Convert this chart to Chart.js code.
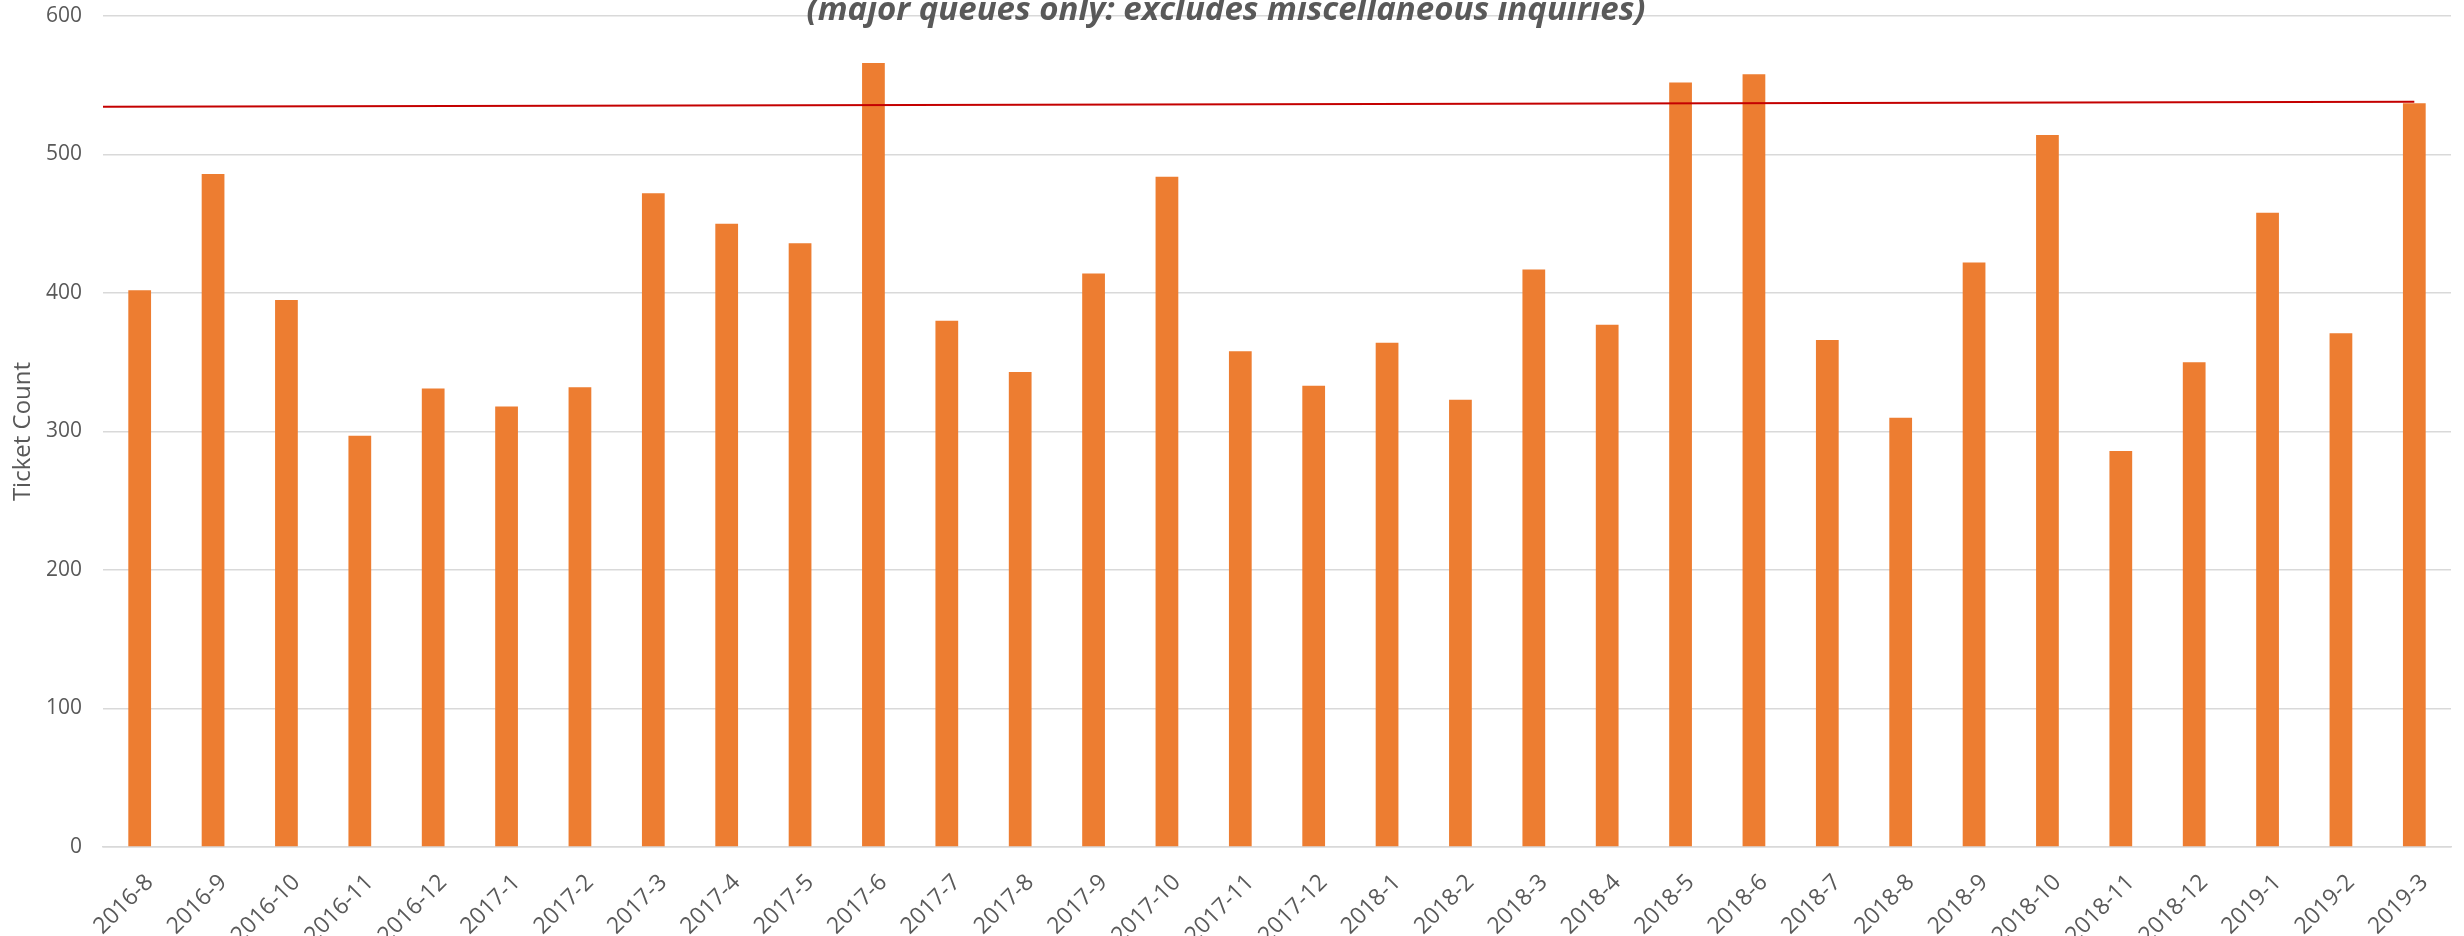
<!DOCTYPE html>
<html>
<head>
<meta charset="utf-8">
<script src="https://cdn.jsdelivr.net/npm/chart.js@4/dist/chart.umd.min.js"></script>
<style>
  html, body { margin: 0; padding: 0; background: #fff; overflow: hidden; }
  #wrap { width: 2464px; height: 936px; }
</style>
</head>
<body>
<div id="wrap"><canvas id="ticket_chart" width="2464" height="936"></canvas></div>
<script>
const months = [
  "2016-8", "2016-9", "2016-10", "2016-11", "2016-12",
  "2017-1", "2017-2", "2017-3", "2017-4", "2017-5", "2017-6",
  "2017-7", "2017-8", "2017-9", "2017-10", "2017-11", "2017-12",
  "2018-1", "2018-2", "2018-3", "2018-4", "2018-5", "2018-6",
  "2018-7", "2018-8", "2018-9", "2018-10", "2018-11", "2018-12",
  "2019-1", "2019-2", "2019-3",
];
const ticketCounts = [
  402, 486, 395, 297, 331,
  318, 332, 472, 450, 436, 566,
  380, 343, 414, 484, 358, 333,
  364, 323, 417, 377, 552, 558,
  366, 310, 422, 514, 286, 350,
  458, 371, 537,
];
// linear trendline, start and end
const trendX = [-0.5, 31];
const trendY = [534.5, 538];
const yTicks = [0, 100, 200, 300, 400, 500, 600];

const subtitle = "(major queues only: excludes miscellaneous inquiries)";
const textGray = "#595959";
const gridGray = "#d9d9d9";

// subtitle floats over the plot, top is cut off like in the original
const subtitlePlugin = {
  id: "subtitleText",
  afterDraw(chart) {
    const ctx = chart.ctx;
    ctx.save();
    ctx.font = 'italic bold 33px "Open Sans"';
    ctx.fillStyle = textGray;
    ctx.textAlign = "center";
    ctx.textBaseline = "alphabetic";
    ctx.fillText(subtitle, 1226, 20);
    ctx.restore();
  },
};

const chartCanvas = document.getElementById("ticket_chart");
chartCanvas.chart = new Chart(chartCanvas, {
  data: {
    labels: months,
    datasets: [
      {
        type: "line",
        label: "Linear trend",
        data: trendX.map((x, i) => ({ x: x, y: trendY[i] })),
        xAxisID: "x2",
        borderColor: "#c40000",
        borderWidth: 2,
        pointRadius: 0,
        fill: false,
        order: 0,
      },
      {
        type: "bar",
        label: "Ticket Count",
        data: ticketCounts,
        xAxisID: "x",
        backgroundColor: "#ed7d31",
        borderWidth: 0,
        grouped: false,
        barPercentage: 0.31,
        categoryPercentage: 1,
        order: 1,
      },
    ],
  },
  plugins: [subtitlePlugin],
  options: {
    responsive: false,
    animation: false,
    devicePixelRatio: 1,
    layout: { padding: { top: 16, right: 13, left: 0, bottom: 0 } },
    plugins: {
      legend: { display: false },
      tooltip: { enabled: false },
    },
    scales: {
      x: {
        type: "category",
        offset: true,
        grid: { display: false, drawTicks: false, offset: true },
        border: { color: gridGray, width: 1.5 },
        ticks: {
          autoSkip: false,
          maxRotation: 45,
          minRotation: 45,
          padding: 22,
          labelOffset: 10,
          color: textGray,
          font: { family: "Open Sans", size: 23 },
        },
        afterFit: (scale) => {
          scale.height = 89;
          scale.paddingLeft = 0;
          scale.paddingRight = 0;
        },
      },
      x2: {
        type: "linear",
        display: false,
        min: -0.5,
        max: 31.5,
      },
      y: {
        min: 0,
        max: 600,
        afterBuildTicks: (scale) => { scale.ticks = yTicks.map((v) => ({ value: v })); },
        grid: { color: gridGray, lineWidth: 1.5, drawTicks: false },
        border: { display: false },
        ticks: {
          padding: 21,
          color: textGray,
          font: { family: "Open Sans", size: 21 },
        },
        title: {
          display: true,
          text: "Ticket Count",
          color: textGray,
          font: { family: "Open Sans", size: 24 },
          padding: { top: 9, bottom: 0 },
        },
        afterFit: (scale) => {
          scale.width = 103;
          scale.paddingTop = 0;
          scale.paddingBottom = 0;
        },
      },
    },
  },
});
</script>
</body>
</html>
